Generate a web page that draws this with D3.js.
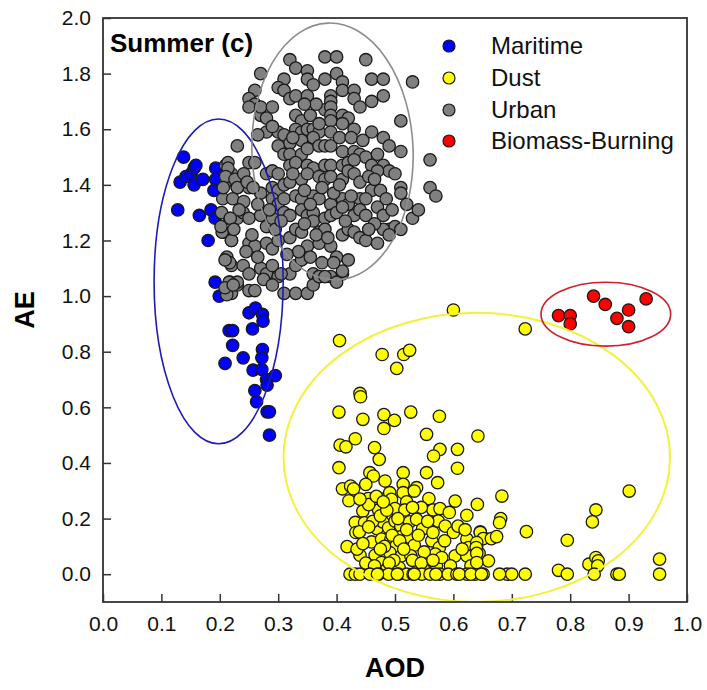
<!DOCTYPE html>
<html>
<head>
<meta charset="utf-8">
<script src="https://cdn.jsdelivr.net/npm/d3@7"></script>
<style>
  body { margin: 0; background: #fff; }
  text { font-family: "Liberation Sans", Arial, sans-serif; }
</style>
</head>
<body>
<div id="chart"></div>
<script>
// AOD / AE pairs
var maritime = [
  [0.138,1.50],[0.132,1.41],[0.142,1.43],[0.151,1.44],[0.156,1.46],[0.159,1.47],[0.156,1.40],
  [0.171,1.42],[0.193,1.46],[0.193,1.42],[0.190,1.38],[0.128,1.31],[0.165,1.29],[0.185,1.31],
  [0.192,1.28],[0.180,1.20],[0.192,1.05],[0.199,1.00],[0.250,0.94],[0.261,0.957],[0.273,0.934],
  [0.274,0.91],[0.216,0.876],[0.222,0.876],[0.256,0.882],[0.222,0.823],[0.240,0.778],[0.209,0.758],
  [0.273,0.808],[0.272,0.778],[0.257,0.734],[0.272,0.736],[0.280,0.70],[0.295,0.714],[0.281,0.68],
  [0.260,0.66],[0.263,0.62],[0.281,0.584],[0.285,0.584],[0.285,0.50]
];

var dust = [
  [0.60,0.95],[0.405,0.84],[0.478,0.79],[0.515,0.79],[0.525,0.805],[0.503,0.74],[0.44,0.65],
  [0.441,0.638],[0.404,0.583],[0.445,0.557],[0.481,0.574],[0.499,0.553],[0.481,0.524],[0.527,0.583],
  [0.576,0.568],[0.554,0.503],[0.642,0.497],[0.432,0.487],[0.406,0.464],[0.416,0.458],[0.465,0.455],
  [0.473,0.413],[0.577,0.449],[0.607,0.449],[0.566,0.425],[0.607,0.381],[0.404,0.383],[0.457,0.365],
  [0.463,0.353],[0.483,0.335],[0.514,0.365],[0.554,0.365],[0.573,0.329],[0.41,0.307],[0.424,0.317],
  [0.429,0.307],[0.421,0.264],[0.45,0.323],[0.454,0.272],[0.483,0.272],[0.491,0.293],[0.494,0.269],
  [0.514,0.323],[0.514,0.293],[0.52,0.26],[0.537,0.311],[0.533,0.299],[0.558,0.272],[0.603,0.263],
  [0.641,0.251],[0.445,0.227],[0.472,0.231],[0.50,0.236],[0.517,0.231],[0.565,0.231],[0.577,0.236],
  [0.593,0.222],[0.623,0.212],[0.432,0.186],[0.448,0.185],[0.469,0.164],[0.479,0.188],[0.489,0.167],
  [0.50,0.191],[0.51,0.173],[0.525,0.188],[0.537,0.197],[0.547,0.162],[0.56,0.188],[0.574,0.191],
  [0.586,0.173],[0.60,0.15],[0.608,0.173],[0.623,0.126],[0.646,0.152],[0.651,0.132],[0.433,0.15],
  [0.439,0.152],[0.46,0.116],[0.477,0.126],[0.493,0.126],[0.502,0.102],[0.511,0.135],[0.526,0.132],
  [0.533,0.104],[0.563,0.12],[0.576,0.096],[0.626,0.096],[0.64,0.102],[0.418,0.099],[0.44,0.068],
  [0.466,0.068],[0.477,0.042],[0.491,0.078],[0.511,0.066],[0.527,0.066],[0.507,0.024],[0.554,0.03],
  [0.569,0.072],[0.571,0.03],[0.603,0.066],[0.623,0.066],[0.637,0.036],[0.644,0.075],[0.457,0.03],
  [0.486,0.018],[0.549,0.018],
  [0.455,0.25],[0.462,0.19],[0.468,0.28],[0.475,0.21],[0.482,0.10],[0.486,0.23],[0.495,0.14],
  [0.498,0.05],[0.505,0.20],[0.508,0.12],[0.515,0.09],[0.52,0.16],[0.53,0.05],[0.54,0.14],
  [0.545,0.24],[0.55,0.08],[0.556,0.19],[0.565,0.15],[0.58,0.06],[0.585,0.12],[0.595,0.03],
  [0.615,0.09],[0.62,0.16],[0.63,0.03],[0.435,0.09],[0.445,0.11],[0.45,0.04],[0.465,0.03],
  [0.475,0.09],[0.48,0.26],[0.49,0.04],[0.53,0.24],[0.545,0.04],[0.565,0.05],[0.44,0.27],[0.455,0.17],
  [0.423,0],[0.432,0],[0.44,0],[0.457,0],[0.472,0],[0.489,0],[0.506,0],[0.52,0],[0.531,0],[0.546,0],
  [0.56,0],[0.577,0],[0.591,0],[0.606,0],[0.623,0],[0.637,0],[0.651,0],[0.47,0],[0.504,0],[0.533,0],
  [0.57,0],[0.61,0],[0.63,0],[0.692,0],
  [0.723,0.882],[0.683,0.281],[0.681,0.20],[0.679,0.185],[0.725,0.153],[0.901,0.299],[0.844,0.231],
  [0.838,0.188],[0.795,0.122],[0.78,0.014],[0.795,0],[0.832,0.036],[0.844,0.06],[0.848,0.048],
  [0.847,0.03],[0.841,0],[0.88,0],[0.884,0],[0.953,0.054],[0.953,0],[0.679,0],[0.70,0],[0.723,0],
  [0.66,0.048],[0.646,0.15],[0.651,0.128],[0.665,0.128],[0.674,0.135],[0.64,0.114],[0.639,0.096],
  [0.64,0.075],[0.64,0.042],[0.648,0]
];

var urban = [
  [0.32,1.85],[0.33,1.82],[0.38,1.86],[0.40,1.86],[0.45,1.85],[0.35,1.81],[0.40,1.80],[0.41,1.77],
  [0.46,1.78],[0.48,1.78],[0.53,1.77],[0.27,1.80],
  [0.31,1.78],[0.30,1.75],[0.31,1.74],[0.32,1.71],[0.33,1.72],[0.35,1.78],[0.35,1.72],[0.36,1.76],
  [0.38,1.78],[0.39,1.72],[0.39,1.70],[0.41,1.74],[0.43,1.74],[0.43,1.71],[0.44,1.68],[0.46,1.70],
  [0.48,1.72],[0.51,1.63],
  [0.26,1.74],[0.25,1.71],[0.26,1.69],[0.25,1.68],[0.27,1.65],[0.27,1.68],[0.29,1.68],
  [0.33,1.65],[0.34,1.63],[0.38,1.67],[0.39,1.68],[0.39,1.65],[0.39,1.63],[0.41,1.65],[0.42,1.64],
  [0.41,1.62],[0.43,1.60],[0.46,1.59],[0.48,1.57],[0.49,1.54],[0.51,1.52],[0.56,1.49],
  [0.23,1.54],[0.28,1.59],[0.30,1.59],[0.31,1.58],[0.33,1.60],[0.34,1.59],[0.35,1.60],[0.36,1.60],
  [0.37,1.59],[0.39,1.59],[0.36,1.57],[0.34,1.56],[0.32,1.55],[0.30,1.54],[0.31,1.51],[0.32,1.51],
  [0.34,1.51],[0.35,1.53],[0.37,1.54],[0.38,1.54],[0.39,1.54],[0.41,1.52],[0.43,1.52],[0.44,1.51],
  [0.45,1.50],[0.47,1.51],[0.48,1.47],[0.49,1.45],[0.50,1.44],[0.51,1.39],[0.51,1.37],[0.52,1.33],
  [0.53,1.28],[0.54,1.31],[0.56,1.39],[0.57,1.36],
  [0.25,1.48],[0.26,1.48],[0.28,1.44],[0.29,1.45],[0.30,1.44],[0.32,1.47],[0.33,1.48],[0.35,1.47],
  [0.36,1.46],[0.38,1.47],[0.39,1.47],[0.41,1.47],[0.42,1.48],[0.43,1.49],[0.46,1.47],[0.47,1.45],
  [0.22,1.44],[0.23,1.39],[0.24,1.42],[0.25,1.39],[0.27,1.37],[0.29,1.39],[0.30,1.38],[0.31,1.40],
  [0.32,1.41],[0.34,1.42],[0.35,1.44],[0.37,1.43],[0.38,1.42],[0.39,1.43],[0.41,1.42],[0.42,1.45],
  [0.43,1.44],[0.44,1.41],[0.46,1.38],
  [0.29,1.35],[0.30,1.33],[0.31,1.35],[0.33,1.36],[0.34,1.35],[0.36,1.36],[0.37,1.35],[0.39,1.33],
  [0.41,1.35],[0.42,1.33],[0.44,1.35],[0.45,1.35],[0.47,1.32],[0.48,1.29],[0.49,1.24],[0.50,1.25],
  [0.51,1.24],
  [0.23,1.28],[0.24,1.30],[0.25,1.28],[0.27,1.29],[0.28,1.25],[0.29,1.28],[0.31,1.30],[0.32,1.29],
  [0.34,1.31],[0.35,1.29],[0.36,1.30],[0.36,1.27],[0.38,1.28],[0.39,1.29],[0.40,1.30],[0.41,1.32],
  [0.43,1.29],[0.44,1.31],[0.45,1.29],
  [0.22,1.20],[0.25,1.19],[0.26,1.18],[0.28,1.19],[0.29,1.17],[0.30,1.20],[0.32,1.21],[0.33,1.24],
  [0.34,1.23],[0.35,1.18],[0.37,1.23],[0.37,1.19],[0.38,1.24],[0.39,1.18],[0.41,1.22],[0.42,1.24],
  [0.43,1.23],[0.44,1.21],[0.45,1.20],[0.47,1.19],[0.48,1.24],[0.49,1.22],
  [0.22,1.11],[0.24,1.11],[0.25,1.08],[0.27,1.10],[0.28,1.08],[0.29,1.11],[0.30,1.07],[0.32,1.08],
  [0.33,1.11],[0.34,1.13],[0.36,1.08],[0.37,1.07],[0.39,1.07],[0.40,1.14],[0.41,1.08],[0.42,1.13],
  [0.22,1.01],[0.23,1.04],[0.25,1.02],[0.26,1.02],[0.31,1.01],[0.33,1.01],[0.35,1.01],
  [0.36,1.04],[0.37,1.07],[0.38,1.07],[0.40,1.05],[0.41,1.09],
  [0.21,1.47],[0.215,1.42],[0.21,1.41],[0.205,1.35],[0.217,1.28],[0.203,1.30],[0.206,1.23],
  [0.212,1.14],[0.217,1.12],[0.217,1.05],[0.23,1.05],[0.212,1.005],[0.204,1.23],[0.22,1.20],
  [0.209,1.13],[0.216,1.05],[0.209,1.03],[0.223,1.04],
  [0.214,1.48],[0.214,1.46],[0.21,1.43],[0.226,1.42],[0.206,1.39],[0.23,1.39],[0.241,1.44],
  [0.247,1.41],[0.257,1.39],[0.222,1.35],[0.241,1.34],[0.233,1.31],[0.202,1.25],[0.218,1.28],
  [0.224,1.24],
  [0.325,1.44],[0.345,1.38],[0.355,1.33],[0.375,1.39],[0.395,1.37],[0.405,1.40],[0.415,1.27],
  [0.425,1.36],[0.345,1.26],[0.365,1.22],[0.385,1.21],[0.335,1.16],[0.355,1.14],[0.375,1.12],
  [0.395,1.12],[0.315,1.15],[0.295,1.24],[0.305,1.27],[0.285,1.31],[0.265,1.33],[0.255,1.22],
  [0.265,1.14],[0.245,1.16],[0.275,1.06],[0.29,1.04],[0.305,1.08],[0.325,1.57],[0.355,1.65],
  [0.365,1.69],[0.37,1.62],[0.345,1.69],[0.405,1.57],[0.425,1.57],[0.445,1.56],[0.455,1.43],
  [0.465,1.42],[0.475,1.38],[0.485,1.35],[0.495,1.31],[0.465,1.26],[0.455,1.24],[0.28,1.64],
  [0.29,1.61],[0.265,1.58]
];

var biomass = [
  [0.78,0.93],[0.80,0.93],[0.80,0.90],[0.84,1.00],[0.86,0.97],[0.88,0.92],[0.90,0.95],[0.90,0.89],[0.93,0.99]
];

var seriesNames = ["Maritime", "Dust", "Urban", "Biomass-Burning"];
var seriesData = [maritime, dust, urban, biomass];
var seriesFill = ["#0000ff", "#ffff00", "#808080", "#ff0000"];

// cluster ellipses: centre AOD, centre AE, radius AOD, radius AE, tilt (deg)
var ellipseCx = [0.198, 0.640, 0.393, 0.861];
var ellipseCy = [1.053, 0.420, 1.520, 0.935];
var ellipseRx = [0.1105, 0.331, 0.138, 0.111];
var ellipseRy = [0.584, 0.520, 0.462, 0.115];
var ellipseTilt = [0, 0, -2, 0];
var ellipseStroke = ["#1c1cb4", "#f2f23c", "#8c8c8c", "#d0202c"];

var xTicks = [0, 0.1, 0.2, 0.3, 0.4, 0.5, 0.6, 0.7, 0.8, 0.9, 1.0];
var yTicks = [0, 0.2, 0.4, 0.6, 0.8, 1.0, 1.2, 1.4, 1.6, 1.8, 2.0];

var width = 707;
var height = 690;
var plotLeft = 103, plotRight = 687, plotTop = 18, plotBottom = 602;

var svg = d3.select("#chart").append("svg")
    .attr("width", width)
    .attr("height", height);

var x = d3.scaleLinear().domain([0, 1]).range([plotLeft, plotRight]);
var y = d3.scaleLinear().domain([-0.1, 2.0]).range([plotBottom, plotTop]);

svg.append("clipPath").attr("id", "plotclip")
    .append("rect")
    .attr("x", plotLeft).attr("y", plotTop)
    .attr("width", plotRight - plotLeft).attr("height", plotBottom - plotTop);

// axes
var xAxis = svg.append("g")
    .attr("transform", "translate(0," + plotBottom + ")")
    .call(d3.axisBottom(x).tickValues(xTicks).tickFormat(d3.format(".1f"))
        .tickSizeInner(-8).tickSizeOuter(0).tickPadding(14));
var yAxis = svg.append("g")
    .attr("transform", "translate(" + plotLeft + ",0)")
    .call(d3.axisLeft(y).tickValues(yTicks).tickFormat(d3.format(".1f"))
        .tickSizeInner(-8).tickSizeOuter(0).tickPadding(12));

[xAxis, yAxis].forEach(function(g){
    g.select(".domain").remove();
    g.selectAll(".tick line").attr("stroke", "#333").attr("stroke-width", 1.5);
    g.selectAll(".tick text")
        .attr("fill", "#111")
        .style("font-size", "21px")
        .style("font-family", "'Liberation Sans', Arial, sans-serif");
});

// points
var pointLayer = svg.append("g").attr("clip-path", "url(#plotclip)");
seriesData.forEach(function(data, s){
    pointLayer.append("g").selectAll("circle")
        .data(data)
        .enter()
        .append("circle")
        .attr("cx", function(d){ return x(d[0]); })
        .attr("cy", function(d){ return y(d[1]); })
        .attr("r", 6.2)
        .attr("fill", seriesFill[s])
        .attr("stroke", "#1a1a1a")
        .attr("stroke-width", 1.3);
});

// ellipses
var ellLayer = svg.append("g").attr("clip-path", "url(#plotclip)");
ellipseCx.forEach(function(cx, i){
    var px = x(cx), py = y(ellipseCy[i]);
    ellLayer.append("ellipse")
        .attr("cx", px)
        .attr("cy", py)
        .attr("rx", x(cx + ellipseRx[i]) - px)
        .attr("ry", py - y(ellipseCy[i] + ellipseRy[i]))
        .attr("transform", "rotate(" + ellipseTilt[i] + "," + px + "," + py + ")")
        .attr("fill", "none")
        .attr("stroke", ellipseStroke[i])
        .attr("stroke-width", i == 1 ? 2 : 1.6);
});

// frame
svg.append("rect")
    .attr("x", plotLeft).attr("y", plotTop)
    .attr("width", plotRight - plotLeft).attr("height", plotBottom - plotTop)
    .attr("fill", "none")
    .attr("stroke", "#333")
    .attr("stroke-width", 1.8);

// titles
svg.append("text")
    .text("Summer (c)")
    .attr("x", 110).attr("y", 52)
    .style("font-size", "26px")
    .style("font-weight", "bold");

svg.append("text")
    .text("AOD")
    .attr("x", (plotLeft + plotRight) / 2).attr("y", 677)
    .attr("text-anchor", "middle")
    .style("font-size", "27px")
    .style("font-weight", "bold");

svg.append("text")
    .text("AE")
    .attr("transform", "translate(34," + ((plotTop + plotBottom) / 2) + ") rotate(-90)")
    .attr("text-anchor", "middle")
    .style("font-size", "27px")
    .style("font-weight", "bold");

// legend
var legend = svg.append("g");
var legendY = [46, 78, 110, 141];
seriesNames.forEach(function(name, i){
    legend.append("circle")
        .attr("cx", 449).attr("cy", legendY[i]).attr("r", 6)
        .attr("fill", seriesFill[i])
        .attr("stroke", "#1a1a1a").attr("stroke-width", 1.2);
    legend.append("text")
        .text(name)
        .attr("x", 491).attr("y", legendY[i] + 8)
        .style("font-size", "24px")
        .attr("fill", "#111");
});
</script>
</body>
</html>
